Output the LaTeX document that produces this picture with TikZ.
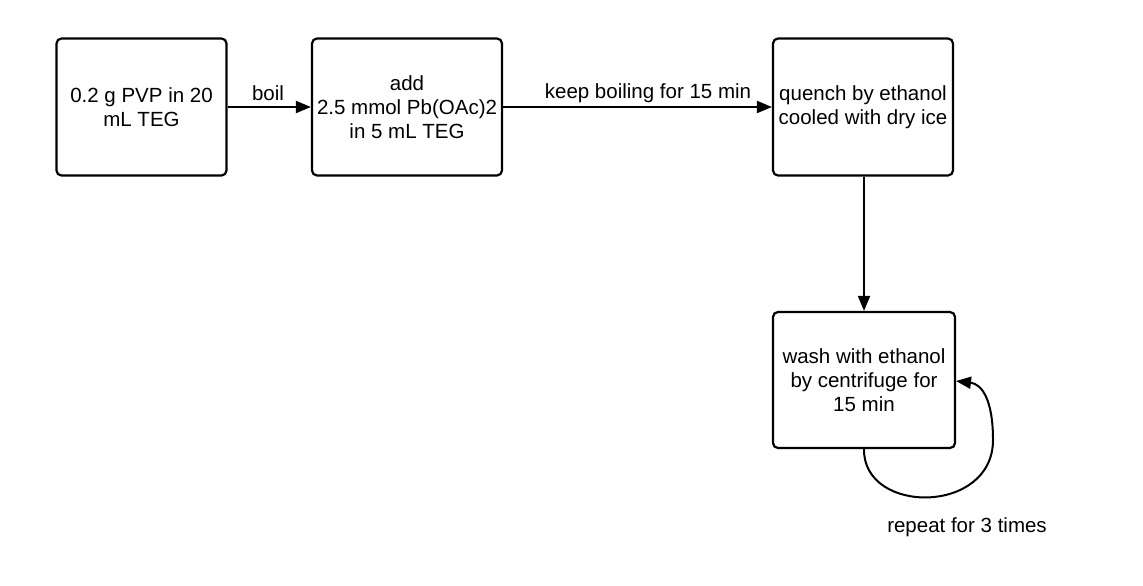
\documentclass[tikz,border=0pt]{standalone}
\usepackage{fontspec}
\setmainfont{Liberation Sans}
\usetikzlibrary{arrows.meta}
\begin{document}
\begin{tikzpicture}[x=1pt,y=-1pt,
  stepbox/.style={draw=black, line width=2.2pt, rounded corners=5pt, align=center,
    inner sep=0pt, font=\fontsize{20.5}{24}\selectfont},
  conn/.style={line width=2pt, -{Triangle[length=15pt,width=12pt]}},
  lbl/.style={font=\fontsize{20.5}{24}\selectfont, inner sep=0pt}]
\useasboundingbox (0,0) rectangle (1143,586);
\node[stepbox, minimum width=170pt, minimum height=137pt] (b1) at (141.5,107) {0.2 g PVP in 20\\mL TEG};
\node[stepbox, minimum width=190pt, minimum height=137pt] (b2) at (407,107) {add\\2.5 mmol Pb(OAc)2\\in 5 mL TEG};
\node[stepbox, minimum width=180pt, minimum height=137pt] (b3) at (863,107) {quench by ethanol\\cooled with dry ice};
\node[stepbox, minimum width=182pt, minimum height=136pt] (b4) at (864,380) {wash with ethanol\\by centrifuge for\\15 min};
\draw[conn] (b1.east) -- (b2.west);
\draw[conn] (b2.east) -- (b3.west);
\draw[conn] (b3.south -| b4.north) -- (b4.north);
\coordinate (lp) at (993,440);
\coordinate (le) at (956,381);
\draw[conn] (b4.south) .. controls (863,515) and (993,515) .. (lp) .. controls (993,400) and (982,384) .. (le);
\node[lbl] (l1) at (268,93) {boil};
\node[lbl] (l2) at (648,93) {keep boiling for 15 min};
\node[lbl] (l3) at (967,527) {repeat for 3 times};
\end{tikzpicture}
\end{document}
